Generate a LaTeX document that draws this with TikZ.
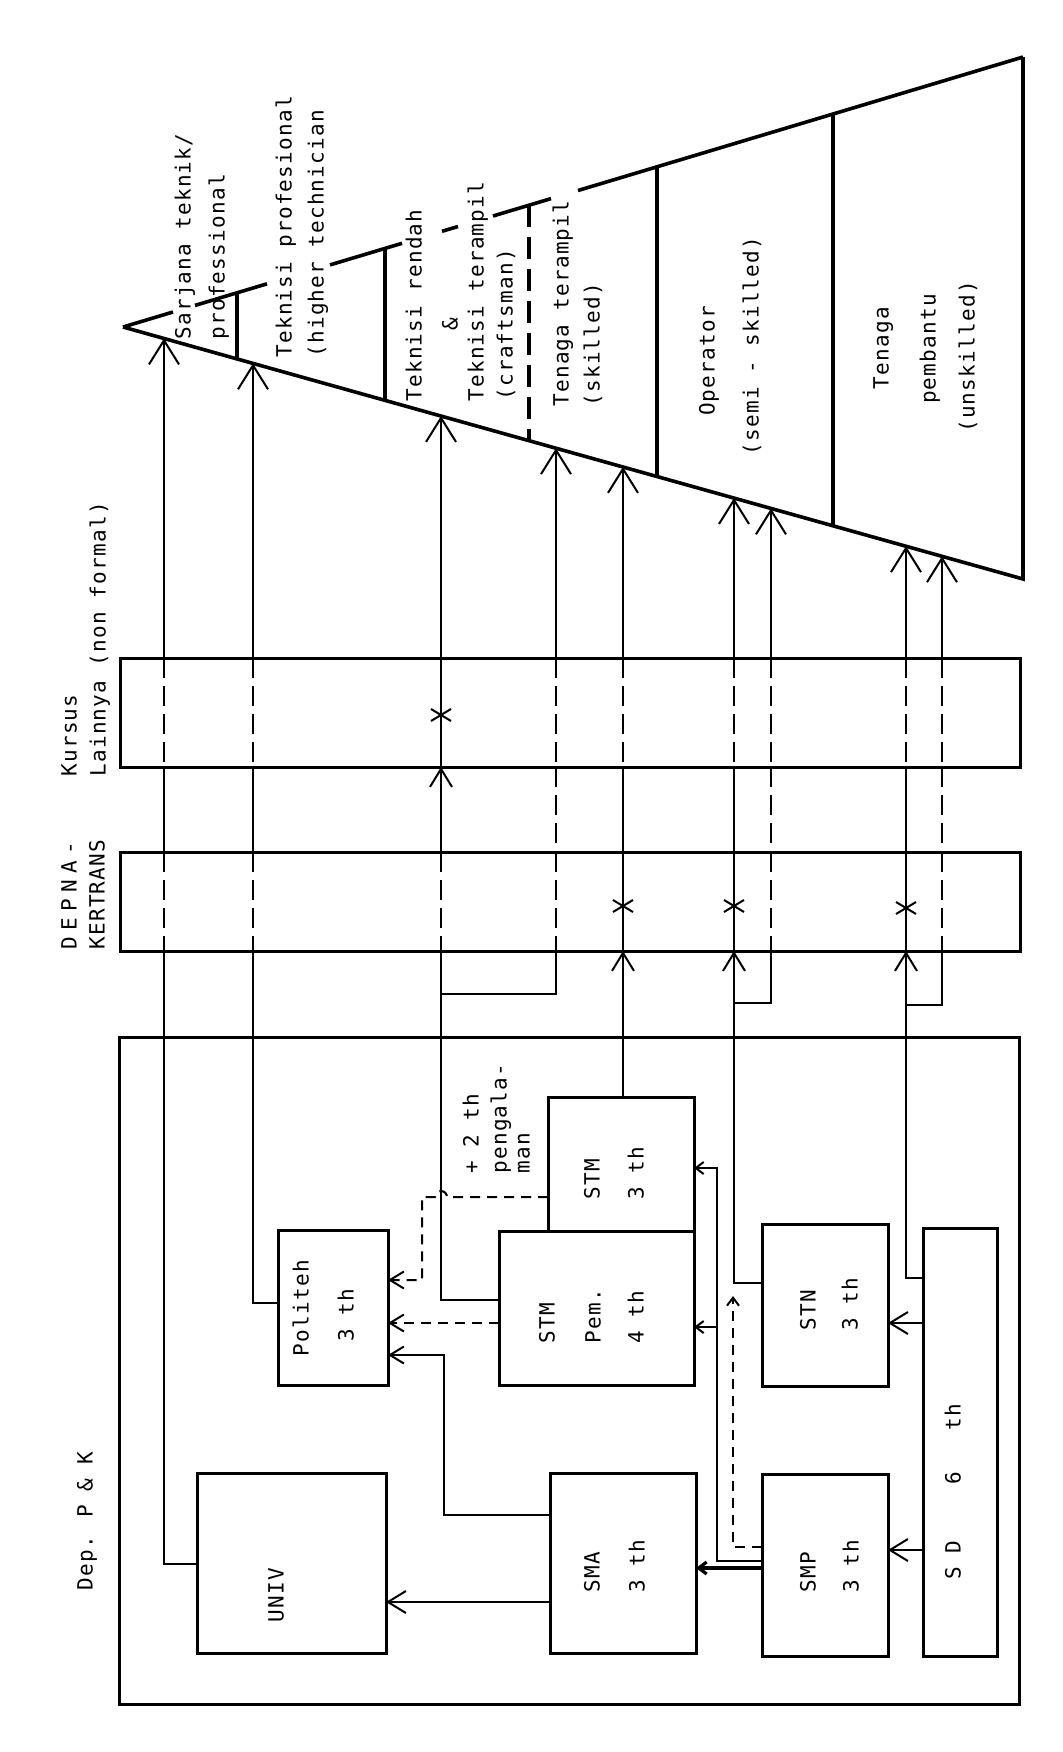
\documentclass[tikz,border=0pt]{standalone}
\usepackage{fontspec}
\usepackage{graphicx}
\newfontfamily\tw[LetterSpace=6]{DejaVu Sans Mono}
\usetikzlibrary{arrows.meta,calc}
\begin{document}
\begin{tikzpicture}[x=0.5pt,y=-0.5pt,
  tri/.style={line width=1.8pt},
  trid/.style={dash pattern=on 11pt off 5pt},
  box/.style={draw, line width=1.5pt, inner sep=0pt, outer sep=0pt},
  conn/.style={line width=1pt},
  dsh/.style={dash pattern=on 10pt off 4pt},
  sdsh/.style={dash pattern=on 5pt off 3.5pt},
  bigarr/.style={-{Straight Barb[length=12pt,width=15pt]}},
  medarr/.style={-{Straight Barb[length=9pt,width=11pt]}},
  polarr/.style={-{Straight Barb[length=7pt,width=8.5pt]}},
  sarr/.style={-{Straight Barb[length=4pt,width=6pt]}},
  lbl/.style={font=\tw\fontsize{10.5pt}{13.5pt}\selectfont, rotate=90, inner sep=0pt, text height=0.75em, text depth=0.2em},
  xm/.pic={\draw[line width=1pt] (-10,-6) -- (10,6) (-10,6) -- (10,-6);}
]
\useasboundingbox (0,0) rectangle (1063,1752);

% ---------- triangle ----------
\coordinate (A) at (123,327);
\coordinate (B) at (1023,579);
\coordinate (C) at (1023,57);
\draw[tri, line join=miter] (A) -- (B) -- (C);
\foreach \p/\q in {123/173,195/267,330/402,442/458,493/551,578/1023}
  \draw[tri] ($(A)!{(\p-123)/900}!(C)$) -- ($(A)!{(\q-123)/900}!(C)$);
\foreach \x/\s in {237/solid,385/solid,529/trid,657/solid,833/solid}
  \draw[tri,\s] ($(A)!{(\x-123)/900}!(C)$) -- ($(A)!{(\x-123)/900}!(B)$);

% ---------- boxes ----------
\node[box, minimum width=450pt, minimum height=54.5pt] (kursus) at (570,712.5) {};
\node[box, minimum width=450pt, minimum height=49.5pt] (depna) at (570,901.5) {};
\node[box, minimum width=450pt, minimum height=333.5pt] (dep) at (569,1370.5) {};
\node[box, minimum width=94.5pt, minimum height=90pt] (univ) at (291.5,1563) {};
\node[box, minimum width=73pt, minimum height=90pt] (sma) at (623,1563) {};
\node[box, minimum width=63pt, minimum height=91pt] (smp) at (825,1565) {};
\node[box, minimum width=37pt, minimum height=214pt] (sd) at (960,1442) {};
\node[box, minimum width=55pt, minimum height=77.5pt] (politeh) at (333,1307.5) {};
\node[box, minimum width=97.5pt, minimum height=77pt] (stmpem) at (596.5,1308) {};
\node[box, minimum width=73pt, minimum height=67pt] (stm3) at (621,1164) {};
\node[box, minimum width=63pt, minimum height=81pt] (stn) at (825,1305) {};

% ---------- vertical lines to the triangle ----------
\foreach \n/\x in {1/164,2/253,3/441,4/556,5/623,6/734,7/771,8/906,9/942}
  \coordinate (t\n) at ($(A)!{(\x-123)/900}!(B)$);
\foreach \n in {1,...,9}
  \draw[conn, bigarr] (t\n |- kursus.north) -- (t\n);
\foreach \n/\s in {1/dsh,2/dsh,3/solid,4/dsh,5/dsh,6/dsh,7/dsh,8/dsh,9/dsh}
  \draw[conn,\s] (t\n |- kursus.north) -- (t\n |- kursus.south);
\foreach \n/\s in {1/solid,2/solid,4/dsh,5/solid,6/solid,7/dsh,8/solid,9/dsh}
  \draw[conn,\s] (t\n |- kursus.south) -- (t\n |- depna.north);
\draw[conn, medarr] (t3 |- depna.north) -- (t3 |- kursus.south);
\foreach \n/\s in {1/dsh,2/dsh,3/dsh,4/dsh,5/solid,6/solid,7/dsh,8/solid,9/dsh}
  \draw[conn,\s] (t\n |- depna.north) -- (t\n |- depna.south);

\draw[conn] (univ.west |- 0,1564) -| (t1 |- depna.south);
\draw[conn] (politeh.west |- 0,1303) -| (t2 |- depna.south);
\draw[conn] (stmpem.west |- 0,1300) -| (t3 |- depna.south);
\draw[conn] (t3 |- 0,994) -| (t4 |- depna.south);
\draw[conn, medarr] (stm3.north -| t5) -- (t5 |- depna.south);
\draw[conn, medarr] (stn.west |- 0,1283) -| (t6 |- depna.south);
\draw[conn] (t6 |- 0,1003) -| (t7 |- depna.south);
\draw[conn, medarr] (sd.west |- 0,1278) -| (t8 |- depna.south);
\draw[conn] (t8 |- 0,1005) -| (t9 |- depna.south);

\pic at (t3 |- 0,715) {xm};
\pic at (t5 |- 0,906) {xm};
\pic at (t6 |- 0,906) {xm};
\pic at (t8 |- 0,908) {xm};

% ---------- connectors inside Dep. P & K ----------
\draw[conn, medarr] (sd.west |- 0,1550) -- (smp.east |- 0,1550);
\draw[conn, medarr] (sd.west |- 0,1323) -- (stn.east |- 0,1323);
\draw[conn, medarr] (sma.west |- 0,1602) -- (univ.east |- 0,1602);
\draw[conn, polarr] (sma.west |- 0,1515) -| (444,1355) -- (politeh.east |- 0,1355);
\draw[conn, sdsh, polarr] (stmpem.west |- 0,1323) -- (politeh.east |- 0,1323);
\draw[conn, sdsh, polarr] (stm3.west |- 0,1197) -- (447,1197)
  arc[start angle=0,end angle=-180,radius=6] -- (422,1197) -- (422,1280) -- (politeh.east |- 0,1280);
\draw[conn, sarr] (smp.west |- 0,1561) -| (717,1168) -- (stm3.east |- 0,1168);
\draw[conn, sarr] (717,1327) -- (stmpem.east |- 0,1327);
\draw[line width=1.6pt, sarr] (smp.west |- 0,1568) -- (sma.east |- 0,1568);
\draw[conn, sdsh, sarr] (smp.west |- 0,1547) -| (733,1296);

% ---------- triangle labels ----------
\node[lbl, anchor=west] (l1) at (185,340) {Sarjana teknik/};
\node[lbl, anchor=west] (l2) at (219,340) {professional};
\node[lbl, anchor=west] (l3) at (286,358) {Teknisi profesional};
\node[lbl, anchor=west] (l4) at (318,358) {(higher technician};
\node[lbl, anchor=west] (l5) at (416,402) {Teknisi rendah};
\node[lbl] (l6) at (452,324) {\&};
\node[lbl, anchor=west] (l7) at (478,402) {Teknisi terampil};
\node[lbl, anchor=west] (l8) at (507,401) {(craftsman)};
\node[lbl, anchor=west] (l9) at (563,407) {Tenaga terampil};
\node[lbl, anchor=west] (l10) at (594,407) {(skilled)};
\node[lbl] (l11) at (709,361) {Operator};
\node[lbl] (l12) at (753,346) {(semi - skilled)};
\node[lbl] (l13) at (883,348) {Tenaga};
\node[lbl] (l14) at (930,349) {pembantu};
\node[lbl] (l15) at (969,357) {(unskilled)};

% ---------- left labels ----------
\node[lbl, anchor=west] (k1) at (71,777) {Kursus};
\node[lbl, anchor=west] (k2) at (100,777) {Lainnya (non formal)};
\node[lbl, anchor=west] (d1) at (71,950) {\addfontfeature{LetterSpace=30}DEPNA-};
\node[lbl, anchor=west] (d2) at (99,950) {KERTRANS};
\node[lbl, anchor=west] (d3) at (87,1591) {Dep. P \& K};

% ---------- box labels ----------
\node[lbl] (u1) at (278,1595) {UNIV};
\node[lbl, anchor=west] (s1) at (594,1593) {SMA};
\node[lbl, anchor=west] (s2) at (639,1593) {3 th};
\node[lbl, anchor=west] (p1) at (810,1593) {SMP};
\node[lbl, anchor=west] (p2) at (853,1593) {3 th};
\node[lbl, anchor=west] (n1) at (810,1331) {STN};
\node[lbl, anchor=west] (n2) at (852,1331) {3 th};
\node[lbl, anchor=west] (m1) at (549,1344) {STM};
\node[lbl, anchor=west] (m2) at (595,1344) {Pem.};
\node[lbl, anchor=west] (m3) at (638,1344) {4 th};
\node[lbl, anchor=west] (q1) at (594,1200) {STM};
\node[lbl, anchor=west] (q2) at (638,1200) {3 th};
\node[lbl] (o1) at (303,1308) {Politeh};
\node[lbl] (o2) at (348,1315) {3 th};
\node[lbl, anchor=west] (sd1) at (955,1580) {S~D~~~~6~~~th};
\node[lbl, anchor=west] (e1) at (473,1174) {+ 2 th};
\node[lbl, anchor=west] (e2) at (501,1174) {pengala-};
\node[lbl, anchor=west] (e3) at (524,1174) {man};
\end{tikzpicture}
\end{document}
